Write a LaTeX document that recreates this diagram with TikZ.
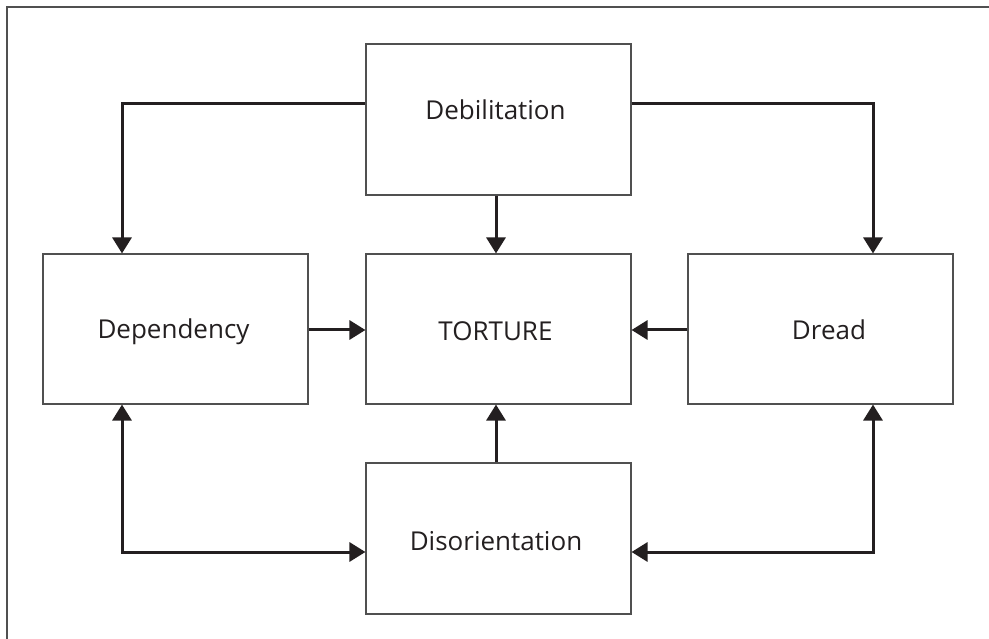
\documentclass[tikz,border=0pt]{standalone}
\usepackage{fontspec}
\setmainfont{Open Sans}
\usetikzlibrary{arrows.meta}
\definecolor{ink}{HTML}{231F20}
\definecolor{frame}{HTML}{505050}
\begin{document}
\begin{tikzpicture}[x=1pt,y=-1pt,
  box/.style={draw=frame, line width=1.1pt, minimum width=265pt, minimum height=150pt, inner sep=0pt},
  lbl/.style={text=ink, font=\fontsize{26}{30}\selectfont, inner sep=0pt, anchor=base},
  conn/.style={draw=ink, line width=3pt, -{Triangle[length=16pt,width=19pt]}},
  dconn/.style={draw=ink, line width=3pt, {Triangle[length=16pt,width=19pt]}-{Triangle[length=16pt,width=19pt]}}]
\useasboundingbox (0,0) rectangle (989,639);
% outer frame (top and left only)
\draw[frame, line width=1.3pt] (7,639) -- (7,7) -- (989,7);
% boxes
\node[box, minimum height=151pt] (deb) at (498.5,119.5) {};
\node[box] (dep) at (175.5,329) {};
\node[box] (tor) at (498.5,329) {};
\node[box] (dre) at (820.5,329) {};
\node[box, minimum height=151pt] (dis) at (498.5,538.5) {};
% labels
\node[lbl] (tdeb) at (495.5,120) {Debilitation};
\node[lbl] (tdep) at (173.5,338) {Dependency};
\node[lbl] (ttor) at (495.5,341) {TORTURE};
\node[lbl] (tdre) at (829,340) {Dread};
\node[lbl] (tdis) at (496,550) {Disorientation};
% connectors
\draw[conn] ([yshift=15.5pt]deb.west) -| ([xshift=-53.5pt]dep.north);
\draw[conn] ([yshift=15.5pt]deb.east) -| ([xshift=52.5pt]dre.north);
\draw[conn] ([xshift=-2.5pt]deb.south) -- ([xshift=-2.5pt]tor.north);
\draw[conn] ([yshift=-1pt]dep.east) -- ([yshift=-1pt]tor.west);
\draw[conn] ([yshift=-1pt]dre.west) -- ([yshift=-1pt]tor.east);
\draw[conn] ([xshift=-2.5pt]dis.north) -- ([xshift=-2.5pt]tor.south);
\draw[dconn] ([xshift=-53.5pt]dep.south) |- ([yshift=-13.5pt]dis.west);
\draw[dconn] ([xshift=52.5pt]dre.south) |- ([yshift=-13.5pt]dis.east);
\end{tikzpicture}
\end{document}
